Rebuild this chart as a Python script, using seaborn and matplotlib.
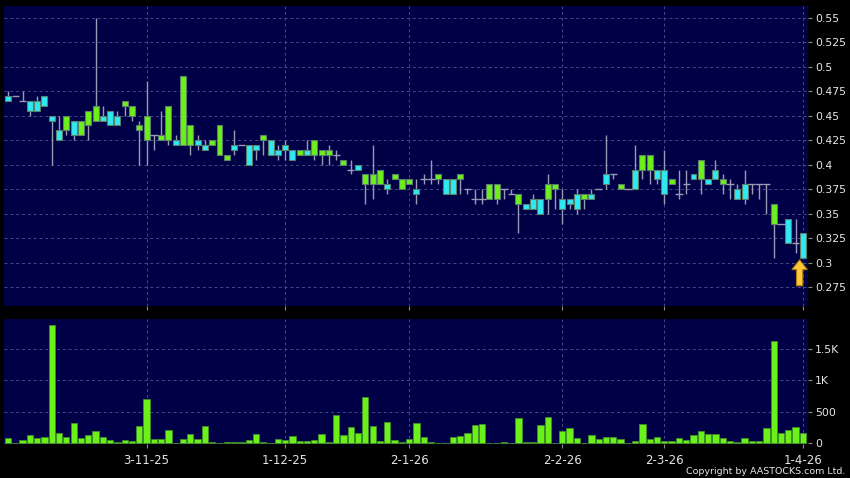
import numpy as np
import pandas as pd
import matplotlib
matplotlib.use('Agg')
import matplotlib.pyplot as plt
import seaborn as sns

# daily candles (oldest first)
opens = [0.47, 0.47, 0.465, 0.465, 0.465, 0.47, 0.45, 0.435, 0.435, 0.445,
         0.43, 0.44, 0.445, 0.45, 0.455, 0.45, 0.46, 0.45, 0.435, 0.425,
         0.43, 0.425, 0.425, 0.425, 0.42, 0.42, 0.425, 0.42, 0.42, 0.41,
         0.405, 0.42, 0.42, 0.42, 0.42, 0.425, 0.425, 0.415, 0.42, 0.415,
         0.41, 0.415, 0.41, 0.41, 0.41, 0.41, 0.40, 0.395, 0.40, 0.38,
         0.38, 0.38, 0.38, 0.385, 0.375, 0.38, 0.375, 0.385, 0.385, 0.385,
         0.385, 0.385, 0.385, 0.375, 0.365, 0.365, 0.365, 0.365, 0.375, 0.37,
         0.36, 0.36, 0.365, 0.365, 0.365, 0.375, 0.365, 0.365, 0.37, 0.365,
         0.37, 0.375, 0.39, 0.39, 0.375, 0.375, 0.395, 0.395, 0.395, 0.395,
         0.395, 0.38, 0.37, 0.38, 0.39, 0.385, 0.385, 0.395, 0.38, 0.38,
         0.375, 0.38, 0.38, 0.38, 0.38, 0.34, 0.34, 0.345, 0.32, 0.33]
highs = [0.475, 0.47, 0.475, 0.465, 0.47, 0.47, 0.45, 0.45, 0.45, 0.445,
         0.445, 0.455, 0.55, 0.46, 0.455, 0.455, 0.465, 0.46, 0.445, 0.485,
         0.43, 0.455, 0.46, 0.43, 0.49, 0.44, 0.43, 0.425, 0.425, 0.44,
         0.41, 0.435, 0.42, 0.42, 0.42, 0.43, 0.425, 0.42, 0.425, 0.415,
         0.415, 0.425, 0.425, 0.415, 0.42, 0.415, 0.405, 0.405, 0.40, 0.39,
         0.42, 0.395, 0.385, 0.39, 0.385, 0.385, 0.385, 0.39, 0.405, 0.39,
         0.385, 0.385, 0.39, 0.375, 0.375, 0.375, 0.38, 0.38, 0.375, 0.375,
         0.37, 0.36, 0.37, 0.365, 0.39, 0.38, 0.375, 0.365, 0.375, 0.37,
         0.375, 0.375, 0.43, 0.39, 0.38, 0.375, 0.42, 0.41, 0.41, 0.395,
         0.415, 0.385, 0.395, 0.395, 0.39, 0.405, 0.385, 0.405, 0.39, 0.385,
         0.38, 0.395, 0.38, 0.38, 0.38, 0.36, 0.34, 0.345, 0.345, 0.33]
lows = [0.465, 0.47, 0.465, 0.45, 0.455, 0.46, 0.40, 0.425, 0.43, 0.425,
        0.43, 0.425, 0.445, 0.445, 0.44, 0.44, 0.45, 0.445, 0.40, 0.40,
        0.415, 0.425, 0.42, 0.42, 0.42, 0.41, 0.415, 0.415, 0.42, 0.41,
        0.405, 0.41, 0.42, 0.40, 0.405, 0.41, 0.41, 0.405, 0.405, 0.405,
        0.41, 0.41, 0.405, 0.40, 0.40, 0.405, 0.40, 0.39, 0.395, 0.36,
        0.365, 0.38, 0.37, 0.385, 0.375, 0.38, 0.36, 0.38, 0.38, 0.38,
        0.37, 0.37, 0.37, 0.37, 0.36, 0.36, 0.365, 0.36, 0.365, 0.37,
        0.33, 0.355, 0.355, 0.35, 0.35, 0.355, 0.34, 0.355, 0.35, 0.355,
        0.365, 0.375, 0.375, 0.385, 0.375, 0.375, 0.375, 0.385, 0.38, 0.38,
        0.36, 0.38, 0.365, 0.37, 0.385, 0.37, 0.38, 0.385, 0.37, 0.365,
        0.365, 0.36, 0.37, 0.365, 0.35, 0.305, 0.34, 0.32, 0.31, 0.305]
closes = [0.465, 0.47, 0.465, 0.455, 0.455, 0.46, 0.445, 0.425, 0.45, 0.43,
          0.445, 0.455, 0.46, 0.445, 0.44, 0.44, 0.465, 0.46, 0.44, 0.45,
          0.43, 0.43, 0.46, 0.42, 0.49, 0.44, 0.42, 0.415, 0.425, 0.44,
          0.41, 0.415, 0.42, 0.40, 0.415, 0.43, 0.41, 0.41, 0.415, 0.405,
          0.415, 0.41, 0.425, 0.415, 0.415, 0.41, 0.405, 0.395, 0.395, 0.39,
          0.39, 0.395, 0.375, 0.39, 0.385, 0.385, 0.37, 0.385, 0.385, 0.39,
          0.37, 0.37, 0.39, 0.375, 0.365, 0.365, 0.38, 0.38, 0.375, 0.37,
          0.37, 0.355, 0.355, 0.35, 0.38, 0.38, 0.355, 0.36, 0.355, 0.37,
          0.365, 0.375, 0.38, 0.39, 0.38, 0.375, 0.375, 0.41, 0.41, 0.385,
          0.37, 0.385, 0.37, 0.38, 0.385, 0.405, 0.38, 0.385, 0.385, 0.38,
          0.365, 0.365, 0.38, 0.38, 0.38, 0.36, 0.34, 0.32, 0.32, 0.305]
volumes = [80, 5, 53, 133, 80, 106, 1880, 159, 95, 318,
           80, 133, 196, 106, 53, 27, 53, 37, 281, 705,
           64, 64, 217, 8, 69, 143, 74, 270, 21, 3,
           21, 21, 16, 53, 143, 21, 3, 74, 53, 111,
           37, 42, 53, 143, 16, 445, 133, 265, 159, 742,
           270, 37, 339, 48, 21, 64, 318, 106, 27, 10,
           3, 95, 117, 159, 297, 307, 3, 3, 16, 5,
           398, 27, 16, 292, 413, 3, 201, 244, 90, 3,
           133, 69, 106, 95, 69, 5, 37, 307, 64, 101,
           37, 37, 90, 58, 127, 201, 148, 148, 85, 37,
           16, 90, 42, 42, 244, 1622, 170, 212, 254, 170]

date_ticks = [19, 38, 55, 76, 90, 109]
date_labels = ['3-11-25', '1-12-25', '2-1-26', '2-2-26', '2-3-26', '1-4-26']
price_ticks = [0.275, 0.3, 0.325, 0.35, 0.375, 0.4, 0.425, 0.45, 0.475, 0.5, 0.525, 0.55]
price_labels = ['0.275', '0.3', '0.325', '0.35', '0.375', '0.4', '0.425', '0.45', '0.475', '0.5', '0.525', '0.55']
vol_ticks = [0, 500, 1000, 1500]
vol_labels = ['0', '500', '1K', '1.5K']

df = pd.DataFrame({'open': opens, 'high': highs, 'low': lows, 'close': closes, 'volume': volumes})
df['idx'] = np.arange(len(df))
df['up'] = df['close'] >= df['open']

sns.set_style('dark')
plt.rcParams['font.family'] = ['DejaVu Sans']

bg = '#000046'
green = '#6CF01A'
cyan = '#2EE8F2'
wick = '#9A9AB4'
grid_c = '#484A88'
txt = '#E6E6E6'

fig = plt.figure(figsize=(8.5, 4.78), dpi=100, facecolor='black')
ax1 = fig.add_axes([4 / 850, 1 - 306 / 478, 804 / 850, 300 / 478])
ax2 = fig.add_axes([4 / 850, 1 - 444 / 478, 804 / 850, 125 / 478])

for ax in (ax1, ax2):
    ax.set_facecolor(bg)
    for s in ax.spines.values():
        s.set_visible(False)

# price panel
ax1.vlines(df['idx'], df['low'], df['high'], color=wick, linewidth=1, zorder=2)
body = df[df['open'] != df['close']]
ax1.bar(body['idx'], (body['close'] - body['open']).abs(),
        bottom=body[['open', 'close']].min(axis=1), width=0.82,
        color=np.where(body['up'], green, cyan), edgecolor='#5A7F6A', linewidth=0.8, zorder=3)
doji = df[df['open'] == df['close']]
ax1.hlines(doji['close'], doji['idx'] - 0.5, doji['idx'] + 0.5, color=wick, linewidth=1, zorder=3)

ax1.set_xlim(-0.55, 109.7)
ax1.set_ylim(0.2559, 0.5618)
ax1.set_xticks(date_ticks)
ax1.set_xticklabels([])
ax1.set_yticks(price_ticks)
ax1.set_yticklabels(price_labels)

# arrow marking the latest close
ax1.annotate('', xy=(df['idx'].iloc[-1] - 0.45, df['low'].iloc[-1] - 0.002),
             xytext=(df['idx'].iloc[-1] - 0.45, 0.2765),
             arrowprops=dict(facecolor='#FFC837', edgecolor='#B07A10', width=4.5,
                             headwidth=11, headlength=7, linewidth=0.8), zorder=5)

# volume panel
sns.barplot(data=df, x='idx', y='volume', ax=ax2, color=green, saturation=1,
            width=0.86, edgecolor='#3F8F2A', linewidth=0.6, zorder=3)
ax2.set_xlim(-0.55, 109.7)
ax2.set_ylim(-10, 1975)
ax2.set_xlabel('')
ax2.set_ylabel('')
ax2.set_xticks(date_ticks)
ax2.set_xticklabels(date_labels)
ax2.set_yticks(vol_ticks)
ax2.set_yticklabels(vol_labels)

for ax in (ax1, ax2):
    ax.yaxis.tick_right()
    ax.grid(True, color=grid_c, linestyle=(0, (3, 3)), linewidth=0.7, zorder=0)
    ax.set_axisbelow(True)
    ax.tick_params(axis='y', colors='#888888', labelcolor=txt, length=3, width=0.8,
                   pad=2, labelsize=7.8, right=True, left=False)
    ax.tick_params(axis='x', colors='#888888', labelcolor=txt, length=3, width=0.8,
                   pad=4, labelsize=8.5, bottom=True)

fig.text(845 / 850, 1 - 471 / 478, 'Copyright by AASTOCKS.com Ltd.', color=txt,
         fontsize=6.8, ha='right', va='center')

plt.savefig('out.png', dpi=100, facecolor='black')
